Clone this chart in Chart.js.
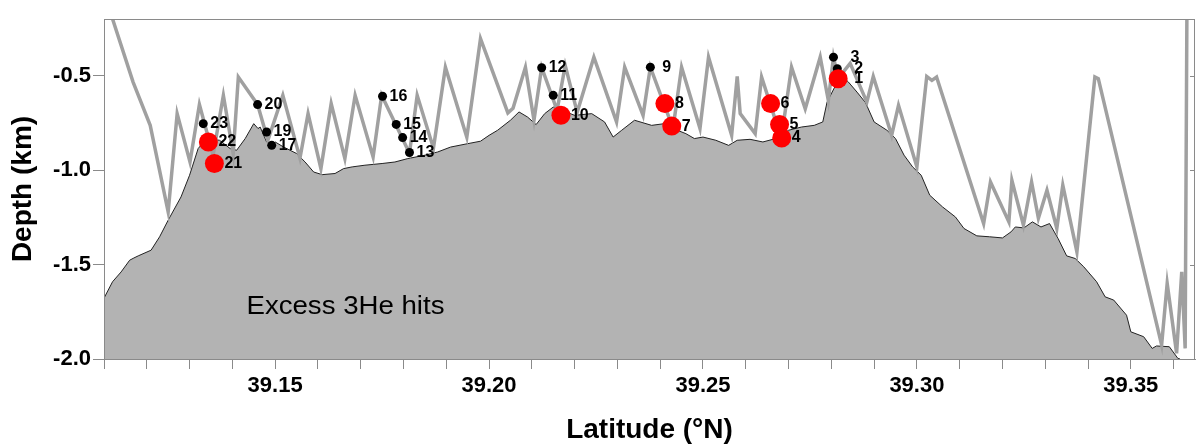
<!DOCTYPE html>
<html>
<head>
<meta charset="utf-8">
<title>Excess 3He hits</title>
<script src="https://cdn.jsdelivr.net/npm/chart.js"></script>
<style>
    html, body { margin: 0; padding: 0; background: #fff; overflow: hidden; }
    #wrap { width: 1197px; height: 446px; position: relative; }
</style>
</head>
<body>
<div id="wrap"><canvas id="depthChart"></canvas></div>
<script>
// bathymetry profile (latitude °N, depth km)
const bathyLat = [39.110, 39.112, 39.114, 39.116, 39.117, 39.118, 39.121, 39.123, 39.125, 39.128,
    39.130, 39.132, 39.134, 39.137, 39.1395, 39.141, 39.143, 39.145, 39.146, 39.1465,
    39.148, 39.149, 39.150, 39.152, 39.155, 39.157, 39.159, 39.161, 39.164, 39.166,
    39.168, 39.171, 39.175, 39.178, 39.181, 39.185, 39.188, 39.191, 39.195, 39.198,
    39.200, 39.202, 39.205, 39.207, 39.209, 39.211, 39.213, 39.215, 39.218, 39.220,
    39.224, 39.227, 39.229, 39.231, 39.234, 39.238, 39.241, 39.243, 39.246, 39.248,
    39.250, 39.253, 39.256, 39.258, 39.261, 39.264, 39.267, 39.270, 39.273, 39.276,
    39.278, 39.279, 39.281, 39.282, 39.284, 39.286, 39.288, 39.290, 39.293, 39.295,
    39.297, 39.299, 39.301, 39.303, 39.306, 39.309, 39.311, 39.314, 39.317, 39.320,
    39.322, 39.323, 39.325, 39.327, 39.329, 39.331, 39.333, 39.335, 39.337, 39.339,
    39.342, 39.344, 39.346, 39.349, 39.350, 39.353, 39.355, 39.356, 39.359, 39.361, 39.3615];
const bathyDepth = [-1.678, -1.591, -1.539, -1.477, -1.465, -1.454, -1.424, -1.353, -1.265, -1.142,
    -1.027, -0.886, -0.833, -0.842, -0.886, -0.895, -0.833, -0.754, -0.780, -0.772,
    -0.851, -0.869, -0.851, -0.878, -0.912, -0.957, -1.010, -1.024, -1.018, -0.992,
    -0.983, -0.974, -0.965, -0.957, -0.939, -0.921, -0.904, -0.878, -0.860, -0.847,
    -0.816, -0.789, -0.736, -0.692, -0.719, -0.759, -0.701, -0.666, -0.692, -0.710,
    -0.701, -0.745, -0.825, -0.789, -0.736, -0.763, -0.754, -0.780, -0.807, -0.833,
    -0.825, -0.842, -0.869, -0.842, -0.837, -0.851, -0.833, -0.789, -0.772, -0.763,
    -0.745, -0.640, -0.551, -0.489, -0.534, -0.587, -0.643, -0.745, -0.789, -0.833,
    -0.921, -0.983, -1.027, -1.133, -1.195, -1.248, -1.309, -1.348, -1.353, -1.359,
    -1.327, -1.301, -1.306, -1.274, -1.301, -1.283, -1.362, -1.454, -1.468, -1.512,
    -1.591, -1.671, -1.688, -1.768, -1.856, -1.882, -1.944, -1.931, -1.935, -1.997, -2.0];

// tow-yo track
const trackLat = [39.112, 39.1168, 39.1208, 39.1250, 39.1271, 39.1301, 39.1323, 39.1355, 39.1379, 39.1402,
    39.1414, 39.1459, 39.1483, 39.1518, 39.1558, 39.1577, 39.1607, 39.1631, 39.1663, 39.1687,
    39.1729, 39.1749, 39.1814, 39.1832, 39.1870, 39.1898, 39.1948, 39.1980, 39.2044, 39.2056,
    39.2085, 39.2105, 39.2123, 39.2159, 39.2178, 39.2206, 39.2245, 39.2298, 39.2317, 39.2360,
    39.2377, 39.2430, 39.2450, 39.2493, 39.2513, 39.2567, 39.2580, 39.2587, 39.2622, 39.2637,
    39.2683, 39.2707, 39.2739, 39.2774, 39.2793, 39.2805, 39.2816, 39.2844, 39.2883, 39.2898,
    39.2941, 39.2957, 39.3000, 39.3023, 39.3035, 39.3046, 39.3156, 39.3172, 39.3215, 39.3222,
    39.3249, 39.3268, 39.3284, 39.3304, 39.3327, 39.3341, 39.3374, 39.3416, 39.3424, 39.3572,
    39.3585, 39.3607, 39.3619, 39.3627, 39.3631];
const trackDepth = [-0.200, -0.534, -0.763, -1.221, -0.701, -0.957, -0.653, -0.921, -0.604, -0.912,
    -0.507, -0.653, -0.842, -0.604, -0.937, -0.701, -0.992, -0.648, -0.939, -0.604,
    -0.930, -0.604, -0.911, -0.604, -0.884, -0.455, -0.826, -0.304, -0.697, -0.673,
    -0.455, -0.736, -0.456, -0.683, -0.446, -0.694, -0.402, -0.745, -0.455, -0.710,
    -0.455, -0.779, -0.455, -0.780, -0.402, -0.816, -0.504, -0.701, -0.807, -0.507,
    -0.832, -0.455, -0.675, -0.402, -0.631, -0.402, -0.514, -0.435, -0.640, -0.504,
    -0.816, -0.657, -0.983, -0.504, -0.525, -0.507, -1.283, -1.063, -1.274, -1.054,
    -1.292, -1.063, -1.255, -1.107, -1.309, -1.080, -1.433, -0.507, -0.516, -1.926,
    -1.600, -1.970, -1.539, -1.944, -0.200];

// samples
const sampleLabels = ['23', '20', '19', '17', '16', '15', '14', '13', '12', '11', '9', '3', '2'];
const sampleLat = [39.1332, 39.1459, 39.1480, 39.1492, 39.1751, 39.1783, 39.1798, 39.1814, 39.2123, 39.2150, 39.2377, 39.2805, 39.2814];
const sampleDepth = [-0.754, -0.653, -0.798, -0.869, -0.609, -0.758, -0.828, -0.907, -0.458, -0.604, -0.455, -0.402, -0.463];

// excess 3He hits
const hitLabels = ['22', '21', '10', '8', '7', '6', '5', '4', '1'];
const hitLat = [39.1344, 39.1358, 39.2168, 39.2411, 39.2427, 39.2658, 39.2679, 39.2684, 39.2816];
const hitDepth = [-0.851, -0.965, -0.710, -0.648, -0.767, -0.648, -0.759, -0.830, -0.516];

// axes
const xTicks = [39.11, 39.12, 39.13, 39.14, 39.15, 39.16, 39.17, 39.18, 39.19, 39.20, 39.21, 39.22, 39.23,
    39.24, 39.25, 39.26, 39.27, 39.28, 39.29, 39.30, 39.31, 39.32, 39.33, 39.34, 39.35, 39.36];
const xTickLabels = ['39.15', '39.20', '39.25', '39.30', '39.35'];
const yTicks = [-2.0, -1.5, -1.0, -0.5];
const yTickLabels = ['-2.0', '-1.5', '-1.0', '-0.5'];

const FONT = '"Liberation Sans", Arial, Helvetica, sans-serif';
const labelGap = { '9': 12, '3': 17, '2': 17, '1': 16 };

const pairs = (xs, ys) => xs.map((x, i) => ({ x: x, y: ys[i] }));

// numbers next to the sample dots
const pointLabels = {
    id: 'pointLabels',
    afterDatasetsDraw(chart) {
        const ctx = chart.ctx;
        ctx.save();
        ctx.font = 'bold 16px ' + FONT;
        ctx.fillStyle = '#000';
        ctx.textBaseline = 'middle';
        chart.data.datasets.forEach((ds, i) => {
            if (!ds.pointText) return;
            chart.getDatasetMeta(i).data.forEach((pt, j) => {
                const t = ds.pointText[j];
                ctx.fillText(t, pt.x + (labelGap[t] || ds.textGap), pt.y);
            });
        });
        // annotation inside the seafloor
        const xs = chart.scales.x, ys = chart.scales.y;
        const txt = 'Excess 3He hits';
        ctx.font = '26px ' + FONT;
        const w = ctx.measureText(txt).width;
        ctx.translate(xs.getPixelForValue(39.1433), ys.getPixelForValue(-1.722));
        ctx.scale(198 / w, 1);
        ctx.fillText(txt, 0, 0);
        ctx.restore();
    }
};

// grey box round the plot, with inward ticks on the right side
const frame = {
    id: 'frame',
    afterDraw(chart) {
        const { ctx, chartArea: a } = chart;
        ctx.save();
        ctx.strokeStyle = '#8a8a8a';
        ctx.lineWidth = 1;
        ctx.strokeRect(a.left + 0.5, a.top + 0.5, a.right - a.left - 1, a.bottom - a.top);
        yTicks.forEach(v => {
            const y = Math.round(chart.scales.y.getPixelForValue(v)) + 0.5;
            ctx.beginPath();
            ctx.moveTo(a.right, y);
            ctx.lineTo(a.right - 5, y);
            ctx.stroke();
        });
        ctx.restore();
    }
};

new Chart(document.getElementById('depthChart'), {
    type: 'scatter',
    data: {
        datasets: [
            {
                data: pairs(hitLat, hitDepth),
                pointText: hitLabels, textGap: 10,
                pointRadius: 9.5, backgroundColor: '#ff0000', borderWidth: 0, order: 1
            },
            {
                data: pairs(sampleLat, sampleDepth),
                pointText: sampleLabels, textGap: 7,
                pointRadius: 4.5, backgroundColor: '#000000', borderWidth: 0, order: 2
            },
            {
                data: pairs(trackLat, trackDepth),
                showLine: true, pointRadius: 0, borderColor: '#a0a0a0', borderWidth: 3.5, order: 3
            },
            {
                data: pairs(bathyLat, bathyDepth),
                showLine: true, pointRadius: 0, borderColor: '#222222', borderWidth: 1,
                fill: 'start', backgroundColor: '#b3b3b3', order: 4
            }
        ]
    },
    options: {
        responsive: true,
        maintainAspectRatio: false,
        animation: false,
        events: [],
        // no automatic room for the big dots, the plot box runs to the edge
        layout: { autoPadding: false, padding: { top: 19, right: 2, left: 0, bottom: 0 } },
        plugins: { legend: { display: false }, tooltip: { enabled: false } },
        scales: {
            x: {
                type: 'linear', min: 39.11, max: 39.365,
                afterBuildTicks: s => { s.ticks = xTicks.map(v => ({ value: v })); },
                afterFit: s => { s.height = 87; s.paddingLeft = 0; s.paddingRight = 0; },
                grid: { drawOnChartArea: false, drawTicks: true, tickLength: 10, color: '#8a8a8a' },
                border: { color: '#8a8a8a' },
                ticks: {
                    autoSkip: false, maxRotation: 0, minRotation: 0, padding: 4, color: '#000',
                    font: { family: FONT, size: 22, weight: 'bold' },
                    callback: v => xTickLabels.find(l => Math.abs(parseFloat(l) - v) < 1e-6) || ''
                },
                title: {
                    display: true, text: 'Latitude (°N)', color: '#000',
                    font: { family: FONT, size: 28, weight: 'bold', lineHeight: 1.1 },
                    padding: { top: 0, bottom: 0 }
                }
            },
            y: {
                type: 'linear', min: -2.0, max: -0.2,
                afterBuildTicks: s => { s.ticks = yTicks.map(v => ({ value: v })); },
                afterFit: s => { s.width = 104; s.paddingTop = 0; s.paddingBottom = 0; },
                grid: { drawOnChartArea: false, drawTicks: true, tickLength: 11, color: '#8a8a8a' },
                border: { color: '#8a8a8a' },
                ticks: {
                    padding: 2, color: '#000',
                    font: { family: FONT, size: 22, weight: 'bold' },
                    callback: v => yTickLabels[yTicks.indexOf(v)] || ''
                },
                title: {
                    display: true, text: 'Depth (km)', color: '#000',
                    font: { family: FONT, size: 28, weight: 'bold', lineHeight: 1.1 },
                    padding: { top: 8, bottom: 0 }
                }
            }
        }
    },
    plugins: [pointLabels, frame]
});
</script>
</body>
</html>
